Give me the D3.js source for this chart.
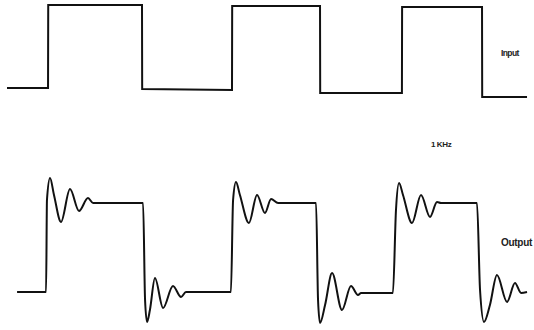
<!DOCTYPE html>
<html>
<head>
<meta charset="utf-8">
<script src="https://cdn.jsdelivr.net/npm/d3@7"></script>
<style>
  html, body { margin: 0; padding: 0; background: #fff; }
  text { font-family: "Liberation Sans", Arial, sans-serif; }
</style>
</head>
<body>
<script>
// square wave in, ringing wave out (time in ms, 1 kHz)
var inputT = [0, 0.228, 0.229, 0.75, 0.751, 1.25, 1.251, 1.739, 1.74, 2.194, 2.195, 2.639, 2.64, 2.889];
var inputV = [0, 0, 1, 1, -0.012, -0.024, 0.988, 0.988, -0.06, -0.06, 0.976, 0.976, -0.108, -0.108];

var outputT = [0.056, 0.217, 0.222, 0.239, 0.261, 0.3, 0.35, 0.4, 0.45, 0.478,
	0.756, 0.767, 0.778, 0.794, 0.822, 0.867, 0.922, 0.967, 0.994,
	1.244, 1.256, 1.272, 1.294, 1.344, 1.389, 1.433, 1.467, 1.506,
	1.717, 1.728, 1.739, 1.767, 1.806, 1.861, 1.911, 1.95, 1.967,
	2.144, 2.161, 2.178, 2.2, 2.25, 2.3, 2.35, 2.389, 2.411,
	2.611, 2.628, 2.65, 2.683, 2.722, 2.778, 2.822, 2.856, 2.889];
var outputV = [0, 0, 1.034, 1.281, 1.09, 0.787, 1.157, 0.91, 1.056, 1.0,
	1.0, -0.09, -0.337, -0.202, 0.157, -0.18, 0.067, -0.056, 0,
	0, 1.034, 1.236, 1.09, 0.775, 1.09, 0.888, 1.045, 1.0,
	1.0, -0.09, -0.348, -0.146, 0.213, -0.202, 0.067, -0.034, -0.011,
	-0.011, 0.921, 1.225, 1.09, 0.775, 1.09, 0.843, 1.011, 1.0,
	1.0, 0.022, -0.337, -0.146, 0.191, -0.112, 0.101, -0.011, 0];

var labels = ["Input", "1 KHz", "Output"];

var width = 534, height = 330;
var svg = d3.select("body").append("svg")
	.attr("width", width)
	.attr("height", height);

var x = d3.scaleLinear().domain([0, 2.9]).range([7, 529]);
var yIn = d3.scaleLinear().domain([0, 1]).range([88, 5]);
var yOut = d3.scaleLinear().domain([0, 1]).range([292, 203]);

var inLine = d3.line()
	.x(function (d, i) { return x(inputT[i]); })
	.y(function (d, i) { return yIn(inputV[i]); });

var outLine = d3.line()
	.curve(d3.curveMonotoneX)
	.x(function (d, i) { return x(outputT[i]); })
	.y(function (d, i) { return yOut(outputV[i]); });

svg.append("path")
	.attr("d", inLine(inputT))
	.attr("fill", "none")
	.attr("stroke", "#111")
	.attr("stroke-width", 2);

svg.append("path")
	.attr("d", outLine(outputT))
	.attr("fill", "none")
	.attr("stroke", "#111")
	.attr("stroke-width", 2)
	.attr("stroke-linejoin", "round");

// labels on the right
svg.append("text").attr("x", 501).attr("y", 56).attr("font-size", 8.5)
	.attr("font-weight", "bold").attr("letter-spacing", -0.6)
	.attr("fill", "#222").text(labels[0]);
svg.append("text").attr("x", 431).attr("y", 147).attr("font-size", 8)
	.attr("font-weight", "bold").attr("letter-spacing", -0.4)
	.attr("fill", "#222").text(labels[1]);
svg.append("text").attr("x", 501).attr("y", 246).attr("font-size", 10)
	.attr("font-weight", "bold").attr("letter-spacing", -0.3)
	.attr("fill", "#222").text(labels[2]);
</script>
</body>
</html>
